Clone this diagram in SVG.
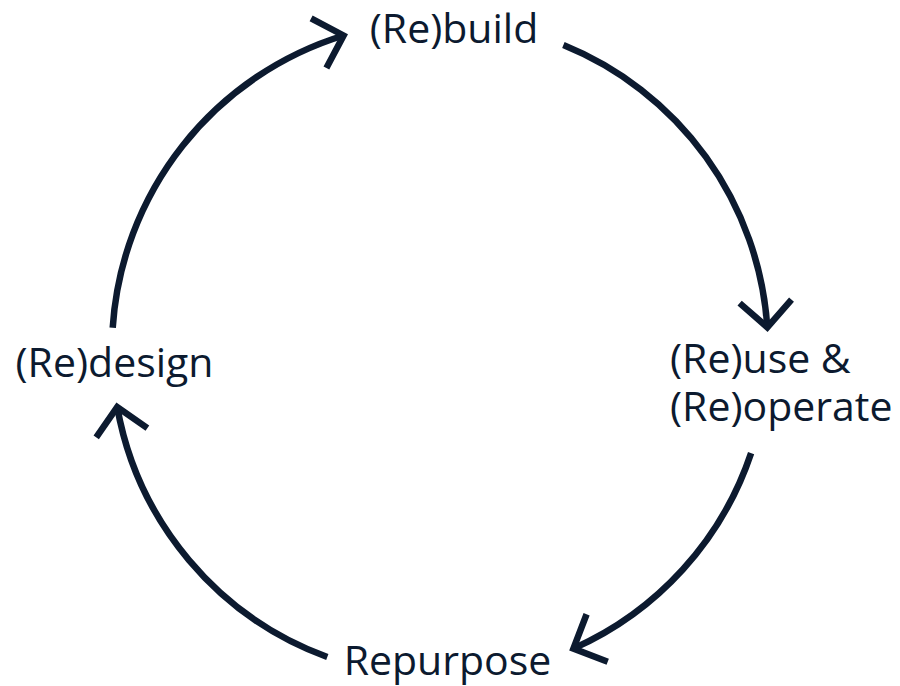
<svg xmlns="http://www.w3.org/2000/svg" width="900" height="686" viewBox="0 0 900 686">
  <style>
    .label { font-family: "Open Sans", "Liberation Sans", sans-serif; font-size: 41px; fill: #0c1a2f; }
    .arc { fill: none; stroke: #0c1a2f; stroke-width: 6.5; stroke-linecap: butt; }
  </style>
  <defs>
    <marker id="chevron" markerUnits="userSpaceOnUse" markerWidth="80" markerHeight="80" viewBox="-40 -40 80 80" refX="0" refY="0" orient="auto" overflow="visible">
      <path d="M -26,-26 L 0,0 L -26,26" fill="none" stroke="#0c1a2f" stroke-width="6.5" stroke-linejoin="miter"/>
    </marker>
  </defs>
  <rect width="900" height="686" fill="#ffffff"/>

  <!-- cycle arrows: circle centre (440,349), r = 328 -->
  <g id="connectors">
    <path class="arc" d="M 563.4,45.1 A 328 328 0 0 1 767.3,327.3" marker-end="url(#chevron)"/>
    <path class="arc" d="M 751.1,453.1 A 328 328 0 0 1 573.4,648.6" marker-end="url(#chevron)"/>
    <path class="arc" d="M 327.3,657.0 A 328 328 0 0 1 117.2,407.1" marker-end="url(#chevron)"/>
    <path class="arc" d="M 112.7,327.8 A 328 328 0 0 1 343.6,35.5" marker-end="url(#chevron)"/>
  </g>

  <g id="rebuild">
    <text class="label" x="454" y="43" text-anchor="middle">(Re)build</text>
  </g>
  <g id="reuse">
    <text class="label" x="670" y="373">(Re)use &amp;</text>
    <text class="label" x="670" y="421">(Re)operate</text>
  </g>
  <g id="repurpose">
    <text class="label" x="447.5" y="675" text-anchor="middle">Repurpose</text>
  </g>
  <g id="redesign">
    <text class="label" x="114.5" y="377" text-anchor="middle">(Re)design</text>
  </g>
</svg>
